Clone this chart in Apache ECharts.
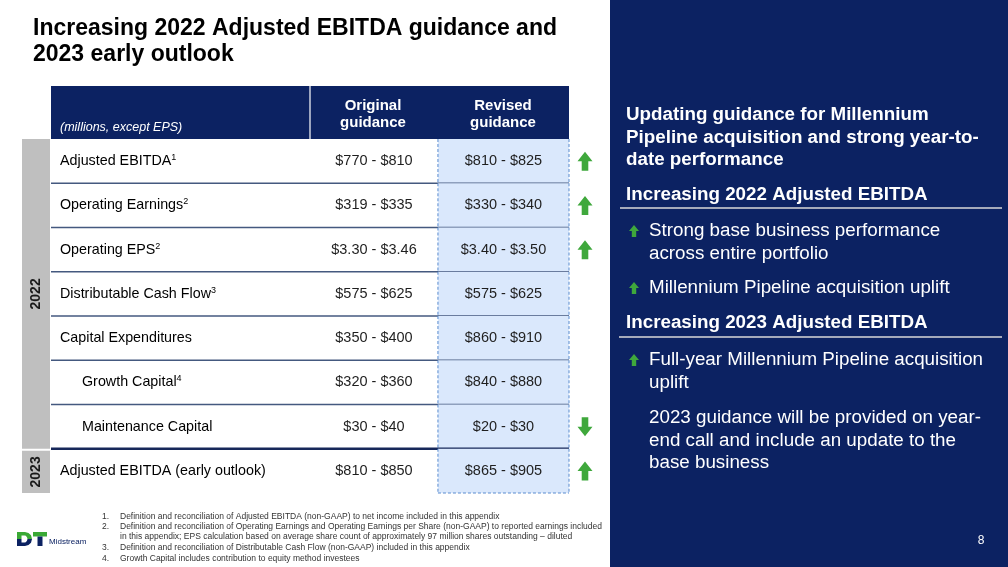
<!DOCTYPE html>
<html>
<head>
<meta charset="utf-8">
<script src="https://cdn.jsdelivr.net/npm/echarts@6/dist/echarts.min.js"></script>
<style>
html, body { margin: 0; padding: 0; background: #fff; }
#main { width: 1008px; height: 567px; }
</style>
</head>
<body>
<div id="main"></div>
<script>
// table data
var rowLabels = ['Adjusted EBITDA', 'Operating Earnings', 'Operating EPS', 'Distributable Cash Flow',
	'Capital Expenditures', 'Growth Capital', 'Maintenance Capital', 'Adjusted EBITDA (early outlook)'];
var rowNotes = ['1', '2', '2', '3', '', '4', '', ''];
var rowIndent = [0, 0, 0, 0, 0, 1, 1, 0];
var originalGuidance = ['$770 - $810', '$319 - $335', '$3.30 - $3.46', '$575 - $625',
	'$350 - $400', '$320 - $360', '$30 - $40', '$810 - $850'];
var revisedGuidance = ['$810 - $825', '$330 - $340', '$3.40 - $3.50', '$575 - $625',
	'$860 - $910', '$840 - $880', '$20 - $30', '$865 - $905'];
var changeDir = [1, 1, 1, 0, 0, 0, -1, 1];
var yearGroups = [['2022', 0, 6], ['2023', 7, 7]];
var columnHeaders = ['(millions, except EPS)', 'Original\nguidance', 'Revised\nguidance'];
var footnotes = [
	['1.', 'Definition and reconciliation of Adjusted EBITDA (non-GAAP) to net income included in this appendix'],
	['2.', 'Definition and reconciliation of Operating Earnings and Operating Earnings per Share (non-GAAP) to reported earnings included'],
	['', 'in this appendix; EPS calculation based on average share count of approximately 97 million shares outstanding \u2013 diluted'],
	['3.', 'Definition and reconciliation of Distributable Cash Flow (non-GAAP) included in this appendix'],
	['4.', 'Growth Capital includes contribution to equity method investees']
];

var NAVY = '#0c2262';
var GREEN = '#3fa83c';
var FONT = '"Liberation Sans", Arial, sans-serif';
// column edges on the 0..100 x axis
var colEdges = [0, 50, 74.7, 100];

function arrowPoints(cx, cy, w, h, dir) {
	var hw = w / 2, sw = w * 0.22, hh = h / 2;
	var pts = [[0, -hh], [hw, 0], [sw, 0], [sw, hh], [-sw, hh], [-sw, 0], [-hw, 0]];
	return pts.map(function (p) { return [cx + p[0], cy + p[1] * dir]; });
}

var rowData = rowLabels.map(function (l, i) { return [i]; });

var myChart = echarts.init(document.getElementById('main'));

var option = {
	animation: false,
	title: {
		text: 'Increasing 2022 Adjusted EBITDA guidance and\n2023 early outlook',
		left: 28, top: 11,
		textStyle: { fontFamily: FONT, fontSize: 23, fontWeight: 'bold', color: '#000', lineHeight: 26 }
	},
	grid: { left: 51, top: 139, width: 518, height: 354 },
	xAxis: { type: 'value', min: 0, max: 100, show: false },
	yAxis: { type: 'category', data: rowLabels, inverse: true, show: false },
	series: [
		{
			// table rows
			type: 'custom',
			data: rowData,
			renderItem: function (params, api) {
				var i = api.value(0);
				var c = api.coord([0, i]);
				var h = api.size([0, 1])[1];
				var cy = c[1], top = cy - h / 2, bot = cy + h / 2;
				var x0 = c[0];
				var x1 = api.coord([colEdges[1], i])[0];
				var x2 = api.coord([colEdges[2], i])[0];
				var x3 = api.coord([colEdges[3], i])[0];
				var last = i === rowLabels.length - 1;
				var kids = [];
				kids.push({ type: 'rect', shape: { x: x2, y: top, width: x3 - x2, height: h }, style: { fill: '#dae8fc' } });
				var dashStyle = { stroke: '#5a8ccf', lineWidth: 1, lineDash: [3, 2] };
				kids.push({ type: 'line', shape: { x1: x2, y1: top, x2: x2, y2: bot }, style: dashStyle });
				kids.push({ type: 'line', shape: { x1: x3, y1: top, x2: x3, y2: bot }, style: dashStyle });
				if (last) {
					kids.push({ type: 'line', shape: { x1: x2, y1: bot, x2: x3, y2: bot }, style: dashStyle });
				} else {
					kids.push({
						type: 'line', shape: { x1: x0, y1: bot, x2: x3, y2: bot },
						style: { stroke: i === 6 ? '#17285a' : '#44597f', lineWidth: i === 6 ? 2.5 : 1.3 }
					});
				}
				var label = '{a|' + rowLabels[i] + '}' + (rowNotes[i] ? '{s|' + rowNotes[i] + '}' : '');
				kids.push({
					type: 'text', x: x0 + (rowIndent[i] ? 31 : 9), y: cy,
					style: {
						text: label, align: 'left', verticalAlign: 'middle',
						rich: {
							a: { fontFamily: FONT, fontSize: 14.3, color: '#1f1f1f', lineHeight: 16 },
							s: { fontFamily: FONT, fontSize: 9, color: '#1f1f1f', verticalAlign: 'top', lineHeight: 9 }
						}
					}
				});
				kids.push({
					type: 'text', x: (x1 + x2) / 2, y: cy,
					style: { text: originalGuidance[i], align: 'center', verticalAlign: 'middle', fontFamily: FONT, fontSize: 14.5, fill: '#1f1f1f' }
				});
				kids.push({
					type: 'text', x: (x2 + x3) / 2, y: cy,
					style: { text: revisedGuidance[i], align: 'center', verticalAlign: 'middle', fontFamily: FONT, fontSize: 14.5, fill: '#1f1f1f' }
				});
				if (changeDir[i]) {
					kids.push({
						type: 'polygon',
						shape: { points: arrowPoints(x3 + 16, cy, 15, 19, changeDir[i] > 0 ? 1 : -1) },
						style: { fill: GREEN }
					});
				}
				return { type: 'group', children: kids };
			}
		},
		{
			// year bands on the left
			type: 'custom',
			data: yearGroups.map(function (g) { return [g[1], g[2]]; }),
			renderItem: function (params, api) {
				var s = api.value(0), e = api.value(1);
				var h = api.size([0, 1])[1];
				var x0 = api.coord([0, s])[0];
				var y0 = api.coord([0, s])[1] - h / 2 + (s > 0 ? 2 : 0);
				var y1 = api.coord([0, e])[1] + h / 2;
				var name = yearGroups[params.dataIndex][0];
				return {
					type: 'group',
					children: [
						{ type: 'rect', shape: { x: x0 - 29, y: y0, width: 28, height: y1 - y0 }, style: { fill: '#bfbfbf' } },
						{
							type: 'text', x: x0 - 15, y: (y0 + y1) / 2, rotation: Math.PI / 2,
							style: { text: name, align: 'center', verticalAlign: 'middle', fontFamily: FONT, fontSize: 14, fontWeight: 'bold', fill: '#1a1a1a' }
						}
					]
				};
			}
		}
	],
	graphic: []
};

var g = option.graphic;
// table header
g.push({ type: 'rect', shape: { x: 51, y: 86, width: 518, height: 53 }, style: { fill: NAVY } });
g.push({ type: 'line', shape: { x1: 310, y1: 86, x2: 310, y2: 139 }, style: { stroke: '#fff', lineWidth: 1.2 } });
g.push({ type: 'text', x: 60, y: 128, style: { text: columnHeaders[0], fontFamily: FONT, fontSize: 12.5, fontStyle: 'italic', fill: '#fff', align: 'left', verticalAlign: 'middle' } });
g.push({ type: 'text', x: 373, y: 114, style: { text: columnHeaders[1], fontFamily: FONT, fontSize: 15, fontWeight: 'bold', fill: '#fff', align: 'center', verticalAlign: 'middle', lineHeight: 17 } });
g.push({ type: 'text', x: 503, y: 114, style: { text: columnHeaders[2], fontFamily: FONT, fontSize: 15, fontWeight: 'bold', fill: '#fff', align: 'center', verticalAlign: 'middle', lineHeight: 17 } });

// right panel
g.push({ type: 'rect', shape: { x: 610, y: 0, width: 398, height: 567 }, style: { fill: NAVY } });
function panelText(x, y, text, bold) {
	g.push({
		type: 'text', x: x, y: y,
		style: { text: text, fontFamily: FONT, fontSize: 18.8, fontWeight: bold ? 'bold' : 'normal', fill: '#fff', align: 'left', verticalAlign: 'top', lineHeight: 22.3 }
	});
}
panelText(626, 104, 'Updating guidance for Millennium\nPipeline acquisition and strong year-to-\ndate performance', true);
panelText(626, 184, 'Increasing 2022 Adjusted EBITDA', true);
g.push({ type: 'line', shape: { x1: 620, y1: 208, x2: 1002, y2: 208 }, style: { stroke: '#d9d9d9', lineWidth: 1.3 } });
panelText(649, 220, 'Strong base business performance\nacross entire portfolio', false);
panelText(649, 277, 'Millennium Pipeline acquisition uplift', false);
panelText(626, 312, 'Increasing 2023 Adjusted EBITDA', true);
g.push({ type: 'line', shape: { x1: 619, y1: 337, x2: 1002, y2: 337 }, style: { stroke: '#d9d9d9', lineWidth: 1.3 } });
panelText(649, 349, 'Full-year Millennium Pipeline acquisition\nuplift', false);
panelText(649, 407, '2023 guidance will be provided on year-\nend call and include an update to the\nbase business', false);
[231, 288, 360].forEach(function (y) {
	g.push({ type: 'polygon', shape: { points: arrowPoints(634, y, 10, 12, 1) }, style: { fill: GREEN } });
});
g.push({ type: 'text', x: 981, y: 541, style: { text: '8', fontFamily: FONT, fontSize: 12, fill: '#fff', align: 'center', verticalAlign: 'middle' } });

// footnotes
var fy = [517, 527, 537, 548, 559];
footnotes.forEach(function (f, k) {
	g.push({ type: 'text', x: 102, y: fy[k], style: { text: f[0], fontFamily: FONT, fontSize: 8.5, fill: '#333', align: 'left', verticalAlign: 'middle' } });
	g.push({ type: 'text', x: 120, y: fy[k], style: { text: f[1], fontFamily: FONT, fontSize: 8.5, fill: '#333', align: 'left', verticalAlign: 'middle' } });
});

// logo
var LOGO_GREEN = '#3aa935';
var dTop = [[17, 532], [25, 532], [28.5, 533], [31, 535.3], [32, 539], [27.5, 539], [27, 537.2], [25.8, 535.8], [24.5, 535.5], [21.5, 535.5], [21.5, 539], [17, 539]];
g.push({ type: 'polygon', shape: { points: dTop }, style: { fill: LOGO_GREEN } });
g.push({ type: 'polygon', shape: { points: dTop.map(function (p) { return [p[0], 1078 - p[1]]; }) }, style: { fill: NAVY } });
g.push({ type: 'rect', shape: { x: 33, y: 532, width: 14, height: 4.5 }, style: { fill: LOGO_GREEN } });
g.push({ type: 'rect', shape: { x: 37.5, y: 536.5, width: 5, height: 9.5 }, style: { fill: NAVY } });
g.push({ type: 'text', x: 49, y: 542, style: { text: 'Midstream', fontFamily: '"Liberation Sans Narrow", ' + FONT, fontSize: 8, fill: NAVY, align: 'left', verticalAlign: 'middle' } });

myChart.setOption(option);
</script>
</body>
</html>
